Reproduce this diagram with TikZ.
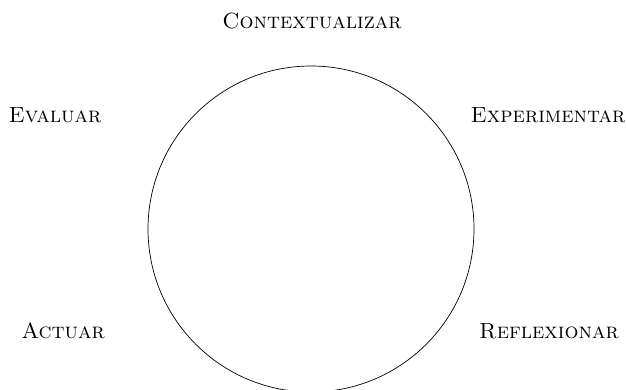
\documentclass[tikz,border=0pt]{standalone}
\begin{document}
\begin{tikzpicture}[x=1pt,y=-1pt,
  lbl/.style={anchor=base,inner sep=0pt,font=\fontsize{22}{25}\selectfont\scshape}]
\useasboundingbox (0,0) rectangle (626,389);
\begin{scope}
\clip (0,0) rectangle (626,389);
\draw[line width=0.7pt] (311,229) circle[radius=163];
\end{scope}
\node[lbl] (ctx) at (312,28) {Contextualizar};
\node[lbl] (eva) at (55,122) {Evaluar};
\node[lbl] (exp) at (548,122) {Experimentar};
\node[lbl] (act) at (63,338) {Actuar};
\node[lbl] (ref) at (549,338) {Reflexionar};
\end{tikzpicture}
\end{document}
